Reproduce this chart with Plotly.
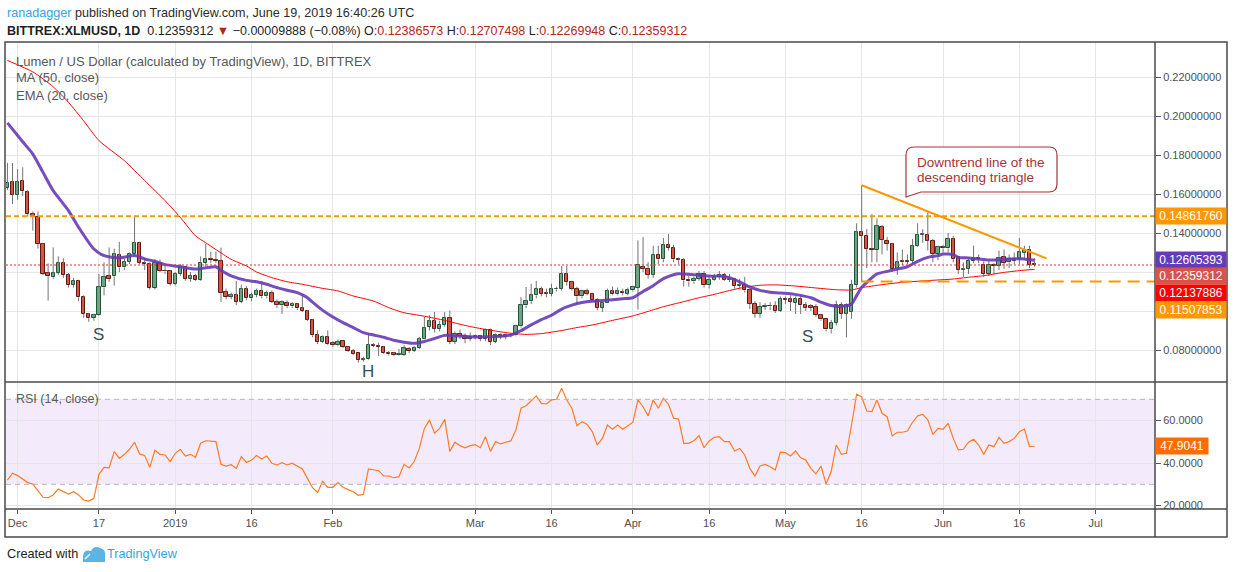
import plotly.graph_objects as go
import pandas as pd

# ---- data: BITTREX:XLMUSD, 1D ----
dates = pd.date_range("2018-11-29", "2019-06-19", freq="D")

open_ = [
    0.1631, 0.1660,
    # Dec
    0.1597, 0.1667, 0.1609, 0.1497, 0.1482, 0.1344, 0.1195, 0.1173, 0.1195, 0.1244,
    0.1185, 0.1133, 0.1156, 0.1070, 0.0985, 0.0964, 0.0979, 0.1121, 0.1178, 0.1178,
    0.1287, 0.1224, 0.1253, 0.1292, 0.1349, 0.1246, 0.1241, 0.1118, 0.1246, 0.1207, 0.1207,
    # Jan
    0.1138, 0.1190, 0.1227, 0.1164, 0.1181, 0.1159, 0.1246, 0.1267, 0.1262, 0.1258,
    0.1096, 0.1072, 0.1080, 0.1046, 0.1111, 0.1065, 0.1082, 0.1101, 0.1075, 0.1092,
    0.1046, 0.1029, 0.1041, 0.1024, 0.1034, 0.1014, 0.1000, 0.0954, 0.0875, 0.0841, 0.0868,
    # Feb
    0.0834, 0.0824, 0.0844, 0.0815, 0.0795, 0.0783, 0.0749, 0.0752, 0.0826, 0.0822,
    0.0817, 0.0785, 0.0783, 0.0773, 0.0775, 0.0805, 0.0795, 0.0812, 0.0858, 0.0918,
    0.0947, 0.0909, 0.0930, 0.0966, 0.0841, 0.0884, 0.0870, 0.0858,
    # Mar
    0.0865, 0.0870, 0.0858, 0.0901, 0.0841, 0.0879, 0.0867, 0.0879, 0.0875, 0.0921,
    0.1029, 0.1050, 0.1080, 0.1111, 0.1092, 0.1089, 0.1111, 0.1115, 0.1188, 0.1149,
    0.1115, 0.1075, 0.1101, 0.1089, 0.1058, 0.1017, 0.1043, 0.1101, 0.1085, 0.1097, 0.1089,
    # Apr
    0.1106, 0.1120, 0.1226, 0.1217, 0.1186, 0.1289, 0.1265, 0.1340, 0.1323, 0.1265,
    0.1260, 0.1161, 0.1152, 0.1166, 0.1191, 0.1132, 0.1161, 0.1174, 0.1186, 0.1161,
    0.1166, 0.1128, 0.1135, 0.1106, 0.1038, 0.0986, 0.1021, 0.1026, 0.1024, 0.1000,
    # May
    0.1063, 0.1063, 0.1041, 0.1063, 0.1029, 0.1024, 0.1021, 0.0978, 0.0957, 0.0906,
    0.0938, 0.1031, 0.0985, 0.0997, 0.1133, 0.1403, 0.1386, 0.1318, 0.1313, 0.1429,
    0.1361, 0.1344, 0.1215, 0.1255, 0.1258, 0.1258, 0.1335, 0.1390, 0.1390, 0.1361, 0.1292,
    # Jun
    0.1326, 0.1321, 0.1369, 0.1275, 0.1212, 0.1215, 0.1256, 0.1272, 0.1238, 0.1190,
    0.1238, 0.1233, 0.1275, 0.1249, 0.1258, 0.1267, 0.1297, 0.1313, 0.12386573,
]
high = [
    0.1760, 0.1759,
    0.1728, 0.1737, 0.1620, 0.1510, 0.1510, 0.1350, 0.1244, 0.1326, 0.1280, 0.1270,
    0.1195, 0.1170, 0.1160, 0.1080, 0.0990, 0.0985, 0.1190, 0.1250, 0.1326, 0.1320,
    0.1355, 0.1270, 0.1300, 0.1490, 0.1355, 0.1270, 0.1250, 0.1265, 0.1265, 0.1230, 0.1210,
    0.1200, 0.1240, 0.1230, 0.1200, 0.1190, 0.1280, 0.1345, 0.1304, 0.1305, 0.1325,
    0.1115, 0.1095, 0.1154, 0.1135, 0.1128, 0.1095, 0.1115, 0.1154, 0.1105, 0.1105,
    0.1060, 0.1055, 0.1055, 0.1045, 0.1040, 0.1085, 0.1005, 0.0956, 0.0901, 0.0875, 0.0901,
    0.0845, 0.0855, 0.0848, 0.0820, 0.0805, 0.0785, 0.0765, 0.0880, 0.0835, 0.0838,
    0.0820, 0.0795, 0.0790, 0.0805, 0.0825, 0.0815, 0.0820, 0.0868, 0.0970, 0.0978,
    0.0995, 0.0950, 0.0995, 0.1003, 0.0895, 0.0905, 0.0885, 0.0890,
    0.0880, 0.0875, 0.0910, 0.0910, 0.0885, 0.0885, 0.0885, 0.0885, 0.0930, 0.1072,
    0.1123, 0.1140, 0.1154, 0.1125, 0.1115, 0.1140, 0.1125, 0.1231, 0.1231, 0.1155,
    0.1125, 0.1110, 0.1115, 0.1095, 0.1065, 0.1050, 0.1115, 0.1125, 0.1120, 0.1115, 0.1120,
    0.1130, 0.1362, 0.1380, 0.1250, 0.1335, 0.1335, 0.1375, 0.1395, 0.1340, 0.1275,
    0.1270, 0.1180, 0.1175, 0.1205, 0.1205, 0.1180, 0.1190, 0.1205, 0.1195, 0.1190,
    0.1170, 0.1165, 0.1175, 0.1115, 0.1050, 0.1045, 0.1040, 0.1045, 0.1050, 0.1075,
    0.1075, 0.1080, 0.1075, 0.1085, 0.1045, 0.1035, 0.1035, 0.0985, 0.0960, 0.0955,
    0.1053, 0.1045, 0.1040, 0.1160, 0.1450, 0.1645, 0.1420, 0.1497, 0.1475, 0.1440,
    0.1380, 0.1350, 0.1300, 0.1315, 0.1290, 0.1370, 0.1450, 0.1420, 0.1506, 0.1370, 0.1335,
    0.1340, 0.1400, 0.1385, 0.1280, 0.1250, 0.1270, 0.1335, 0.1290, 0.1255, 0.1255,
    0.1245, 0.1310, 0.1315, 0.1290, 0.1300, 0.1374, 0.1335, 0.1335, 0.12707498,
]
low = [
    0.1620, 0.1549,
    0.1570, 0.1590, 0.1484, 0.1412, 0.1320, 0.1185, 0.1053, 0.1165, 0.1185, 0.1170,
    0.1120, 0.1120, 0.1050, 0.0965, 0.0945, 0.0950, 0.0975, 0.1080, 0.1150, 0.1130,
    0.1200, 0.1210, 0.1240, 0.1280, 0.1240, 0.1210, 0.1110, 0.1110, 0.1200, 0.1190, 0.1130,
    0.1130, 0.1180, 0.1155, 0.1150, 0.1155, 0.1155, 0.1230, 0.1245, 0.1245, 0.1046,
    0.1060, 0.1060, 0.1031, 0.1040, 0.1055, 0.1050, 0.1070, 0.1065, 0.1065, 0.1040,
    0.1015, 0.0985, 0.1015, 0.1015, 0.1005, 0.0995, 0.0950, 0.0865, 0.0830, 0.0835, 0.0825,
    0.0815, 0.0820, 0.0810, 0.0790, 0.0775, 0.0735, 0.0740, 0.0748, 0.0815, 0.0769,
    0.0780, 0.0772, 0.0768, 0.0770, 0.0770, 0.0785, 0.0790, 0.0805, 0.0855, 0.0900,
    0.0890, 0.0895, 0.0920, 0.0830, 0.0830, 0.0855, 0.0835, 0.0845,
    0.0855, 0.0845, 0.0845, 0.0825, 0.0835, 0.0855, 0.0855, 0.0865, 0.0870, 0.0915,
    0.1015, 0.1035, 0.1065, 0.1075, 0.1070, 0.1075, 0.1100, 0.1105, 0.1130, 0.1105,
    0.1035, 0.1065, 0.1080, 0.1050, 0.1003, 0.0995, 0.1040, 0.1080, 0.1080, 0.1080, 0.1080,
    0.1100, 0.1007, 0.1200, 0.1166, 0.1170, 0.1240, 0.1250, 0.1310, 0.1250, 0.1240,
    0.1125, 0.1125, 0.1140, 0.1155, 0.1120, 0.1115, 0.1155, 0.1160, 0.1155, 0.1148,
    0.1115, 0.1115, 0.1095, 0.1010, 0.0965, 0.0965, 0.1005, 0.1005, 0.0990, 0.0995,
    0.1035, 0.1000, 0.0985, 0.0985, 0.1000, 0.1000, 0.0970, 0.0950, 0.0895, 0.0885,
    0.0925, 0.0960, 0.0865, 0.0960, 0.1120, 0.1150, 0.1220, 0.1250, 0.1250, 0.1290,
    0.1310, 0.1200, 0.1185, 0.1235, 0.1240, 0.1240, 0.1330, 0.1350, 0.1310, 0.1250, 0.1260,
    0.1300, 0.1300, 0.1250, 0.1190, 0.1175, 0.1190, 0.1245, 0.1245, 0.1175, 0.1180,
    0.1190, 0.1210, 0.1215, 0.1220, 0.1240, 0.1240, 0.1270, 0.1220, 0.12269948,
]
close = [
    0.1656, 0.1597,
    0.1660, 0.1614, 0.1497, 0.1484, 0.1344, 0.1190, 0.1178, 0.1195, 0.1246, 0.1185,
    0.1133, 0.1156, 0.1070, 0.0985, 0.0964, 0.0979, 0.1121, 0.1173, 0.1164, 0.1291,
    0.1224, 0.1253, 0.1292, 0.1349, 0.1246, 0.1241, 0.1118, 0.1246, 0.1207, 0.1203, 0.1138,
    0.1190, 0.1227, 0.1164, 0.1181, 0.1159, 0.1246, 0.1267, 0.1262, 0.1258, 0.1091,
    0.1072, 0.1080, 0.1046, 0.1111, 0.1065, 0.1082, 0.1101, 0.1075, 0.1090, 0.1046,
    0.1029, 0.1044, 0.1024, 0.1034, 0.1014, 0.1000, 0.0956, 0.0875, 0.0841, 0.0868, 0.0829,
    0.0824, 0.0841, 0.0815, 0.0795, 0.0781, 0.0749, 0.0752, 0.0824, 0.0822, 0.0817,
    0.0785, 0.0778, 0.0773, 0.0780, 0.0809, 0.0795, 0.0812, 0.0855, 0.0915, 0.0947,
    0.0909, 0.0930, 0.0966, 0.0841, 0.0884, 0.0870, 0.0858, 0.0865,
    0.0870, 0.0858, 0.0901, 0.0841, 0.0879, 0.0867, 0.0879, 0.0875, 0.0921, 0.1029,
    0.1050, 0.1080, 0.1115, 0.1089, 0.1089, 0.1111, 0.1115, 0.1191, 0.1149, 0.1115,
    0.1075, 0.1101, 0.1089, 0.1058, 0.1017, 0.1043, 0.1101, 0.1085, 0.1101, 0.1092, 0.1106,
    0.1123, 0.1238, 0.1217, 0.1186, 0.1289, 0.1265, 0.1340, 0.1323, 0.1265, 0.1260,
    0.1157, 0.1152, 0.1166, 0.1191, 0.1132, 0.1161, 0.1174, 0.1186, 0.1161, 0.1166,
    0.1128, 0.1135, 0.1106, 0.1038, 0.0986, 0.1021, 0.1026, 0.1024, 0.1000, 0.1063,
    0.1058, 0.1046, 0.1063, 0.1029, 0.1017, 0.1017, 0.0981, 0.0957, 0.0906, 0.0938,
    0.1031, 0.0985, 0.1031, 0.1133, 0.1403, 0.1386, 0.1318, 0.1313, 0.1434, 0.1366,
    0.1344, 0.1215, 0.1250, 0.1250, 0.1253, 0.1335, 0.1390, 0.1393, 0.1361, 0.1292, 0.1326,
    0.1321, 0.1369, 0.1267, 0.1212, 0.1215, 0.1258, 0.1272, 0.1267, 0.1190, 0.1238,
    0.1233, 0.1272, 0.1246, 0.1267, 0.1267, 0.1301, 0.1313, 0.1238, 0.12359312,
]

# RSI(14) per candle
rsi = [
    32.0, 35.2, 34.1, 32.5, 30.8, 30.1, 27.0, 23.9, 23.7, 25.0, 27.8, 26.5,
    25.4, 26.5, 25.0, 22.6, 22.1, 23.4, 34.7, 38.0, 37.7, 45.4,
    42.2, 44.1, 46.5, 49.8, 44.3, 43.5, 38.0, 46.0, 44.1, 43.8,
    40.7, 44.6, 46.5, 43.3, 44.1, 42.7, 49.3, 50.5, 50.2, 50.1,
    39.4, 38.6, 39.2, 37.5, 43.0, 40.3, 41.4, 43.5, 41.9, 43.3,
    39.9, 39.1, 40.2, 39.1, 39.9, 38.6, 37.2, 32.8, 28.4, 26.2,
    31.4, 28.6, 28.6, 30.8, 28.6, 27.5, 26.5, 24.8, 25.3, 37.2,
    36.9, 36.4, 33.9, 33.9, 33.1, 33.6, 39.4, 37.7, 40.7, 46.9,
    56.3, 60.3, 54.0, 56.3, 60.6, 45.5, 49.8, 48.2, 47.2, 48.2,
    48.7, 47.2, 52.4, 45.5, 50.1, 49.0, 49.8, 50.4, 55.6, 65.8,
    67.0, 69.2, 71.6, 68.1, 67.8, 69.7, 70.0, 75.2, 69.7, 65.8,
    57.6, 59.5, 58.2, 54.8, 48.5, 51.6, 57.9, 55.9, 57.9, 55.9,
    57.6, 59.2, 69.7, 66.5, 62.2, 69.7, 65.8, 70.5, 67.6, 61.1,
    60.6, 49.3, 49.3, 50.5, 52.9, 47.2, 50.4, 52.1, 52.4, 50.1,
    50.1, 45.7, 46.9, 43.8, 37.5, 33.9, 38.6, 39.4, 38.3, 36.7,
    45.1, 44.9, 43.3, 45.7, 42.5, 41.4, 37.5, 34.9, 38.6, 30.1,
    36.0, 48.5, 44.1, 44.6, 57.9, 72.4, 71.1, 64.5, 64.2, 69.7,
    63.4, 61.8, 52.7, 54.5, 54.5, 55.1, 59.2, 62.2, 62.9, 60.3,
    53.5, 56.3, 55.9, 58.7, 51.6, 46.2, 46.5, 49.8, 51.2, 48.5,
    44.1, 48.5, 47.7, 52.1, 49.3, 50.1, 51.6, 54.8, 56.0, 47.7,
    47.9041,
]

# EMA(20)
ema_dates = [
    "2018-11-29", "2018-12-02", "2018-12-04", "2018-12-06", "2018-12-08", "2018-12-11",
    "2018-12-13", "2018-12-16", "2018-12-18", "2018-12-21", "2018-12-24", "2018-12-26",
    "2018-12-28", "2018-12-30", "2019-01-02", "2019-01-05", "2019-01-07", "2019-01-09",
    "2019-01-10", "2019-01-12", "2019-01-15", "2019-01-17", "2019-01-19", "2019-01-21",
    "2019-01-23", "2019-01-25", "2019-01-27", "2019-01-28", "2019-01-30", "2019-02-01",
    "2019-02-03", "2019-02-05", "2019-02-07", "2019-02-09", "2019-02-11", "2019-02-13",
    "2019-02-15", "2019-02-17", "2019-02-19", "2019-02-21", "2019-02-23", "2019-02-25",
    "2019-02-27", "2019-03-01", "2019-03-05", "2019-03-08", "2019-03-10", "2019-03-12",
    "2019-03-14", "2019-03-16", "2019-03-18", "2019-03-20", "2019-03-22", "2019-03-24",
    "2019-03-26", "2019-03-28", "2019-03-30", "2019-04-01", "2019-04-03", "2019-04-05",
    "2019-04-07", "2019-04-09", "2019-04-10", "2019-04-12", "2019-04-14", "2019-04-17",
    "2019-04-18", "2019-04-20", "2019-04-22", "2019-04-24", "2019-04-26", "2019-04-28",
    "2019-04-30", "2019-05-02", "2019-05-04", "2019-05-06", "2019-05-08", "2019-05-10",
    "2019-05-12", "2019-05-14", "2019-05-15", "2019-05-16", "2019-05-17", "2019-05-19",
    "2019-05-21", "2019-05-23", "2019-05-25", "2019-05-27", "2019-05-29", "2019-05-31",
    "2019-06-01", "2019-06-03", "2019-06-04", "2019-06-06", "2019-06-08", "2019-06-10",
    "2019-06-12", "2019-06-14", "2019-06-16", "2019-06-17", "2019-06-19",
]
ema_values = [
    0.1965, 0.1868, 0.1805, 0.1711, 0.1617, 0.1515,
    0.1429, 0.1318, 0.1284, 0.1272, 0.1284, 0.1267,
    0.1255, 0.1238, 0.1227, 0.1215, 0.1222, 0.1227,
    0.1209, 0.1180, 0.1157, 0.1150, 0.1137, 0.1120,
    0.1106, 0.1094, 0.1068, 0.1045, 0.1003, 0.0969,
    0.0940, 0.0915, 0.0889, 0.0877, 0.0865, 0.0850,
    0.0840, 0.0834, 0.0844, 0.0859, 0.0875, 0.0873,
    0.0870, 0.0867, 0.0869, 0.0877, 0.0899, 0.0929,
    0.0956, 0.0978, 0.1010, 0.1030, 0.1044, 0.1050,
    0.1054, 0.1058, 0.1063, 0.1068, 0.1100, 0.1130,
    0.1166, 0.1186, 0.1191, 0.1188, 0.1183, 0.1178,
    0.1180, 0.1171, 0.1149, 0.1123, 0.1106, 0.1096,
    0.1092, 0.1089, 0.1080, 0.1068, 0.1046, 0.1028,
    0.1024, 0.1036, 0.1079, 0.1121, 0.1147, 0.1190,
    0.1203, 0.1215, 0.1227, 0.1255, 0.1275, 0.1284,
    0.1292, 0.1289, 0.1275, 0.1272, 0.1267, 0.1262,
    0.1263, 0.1267, 0.1268, 0.1267, 0.12605393,
]

# MA(50)
ma_dates = [
    "2018-11-29", "2018-12-04", "2018-12-08", "2018-12-11", "2018-12-14", "2018-12-17",
    "2018-12-22", "2018-12-26", "2018-12-30", "2019-01-02", "2019-01-05", "2019-01-07",
    "2019-01-09", "2019-01-12", "2019-01-15", "2019-01-17", "2019-01-20", "2019-01-23",
    "2019-01-26", "2019-01-30", "2019-02-02", "2019-02-05", "2019-02-09", "2019-02-12",
    "2019-02-15", "2019-02-17", "2019-02-19", "2019-02-23", "2019-02-26", "2019-03-01",
    "2019-03-05", "2019-03-08", "2019-03-11", "2019-03-14", "2019-03-18", "2019-03-21",
    "2019-03-24", "2019-03-28", "2019-04-01", "2019-04-04", "2019-04-07", "2019-04-11",
    "2019-04-14", "2019-04-17", "2019-04-20", "2019-04-23", "2019-04-26", "2019-04-29",
    "2019-05-03", "2019-05-07", "2019-05-11", "2019-05-14", "2019-05-16", "2019-05-20",
    "2019-05-24", "2019-05-29", "2019-06-03", "2019-06-06", "2019-06-09", "2019-06-13",
    "2019-06-16", "2019-06-19",
]
ma_values = [
    0.2285, 0.2226, 0.2150, 0.2070, 0.1975, 0.1874,
    0.1771, 0.1669, 0.1566, 0.1480, 0.1385, 0.1350,
    0.1315, 0.1265, 0.1231, 0.1200, 0.1171, 0.1150,
    0.1137, 0.1116, 0.1103, 0.1077, 0.1051, 0.1017,
    0.0991, 0.0982, 0.0973, 0.0952, 0.0932, 0.0915,
    0.0897, 0.0886, 0.0880, 0.0884, 0.0900, 0.0915,
    0.0928, 0.0952, 0.0975, 0.0998, 0.1022, 0.1048,
    0.1068, 0.1085, 0.1105, 0.1122, 0.1132, 0.1134,
    0.1128, 0.1118, 0.1109, 0.1108, 0.1120, 0.1135,
    0.1147, 0.1156, 0.1164, 0.1173, 0.1181, 0.1198,
    0.1207, 0.12137886,
]

# drawings
trend_dates = ["2019-05-16", "2019-06-21 08:00"]
trend_prices = [0.1645, 0.1270]
resistance = 0.14861760
support = 0.11507853
support_from = "2019-05-16"
last_close = 0.12359312
ema_last = 0.12605393
ma_last = 0.12137886
rsi_last = 47.9041

price_ticks = [0.08, 0.10, 0.12, 0.14, 0.16, 0.18, 0.20, 0.22]
# 0.10 and 0.12 sit under the value tags, so their labels stay empty
price_labels = ["0.08000000", "", "", "0.14000000", "0.16000000", "0.18000000",
                "0.20000000", "0.22000000"]
rsi_ticks = [20, 40, 60]
date_ticks = ["2018-12-01", "2018-12-17", "2019-01-01", "2019-01-16", "2019-02-01",
              "2019-03-01", "2019-03-16", "2019-04-01", "2019-04-16", "2019-05-01",
              "2019-05-16", "2019-06-01", "2019-06-16", "2019-07-01"]
date_labels = ["Dec", "17", "2019", "16", "Feb", "Mar", "16", "Apr", "16", "May",
               "16", "Jun", "16", "Jul"]

# ---- styling ----
L, R, T, B = 6, 1155, 43, 509      # plot box in page pixels


def paper(x, y):
    return (x - L) / (R - L), (B - y) / (B - T)


def path(points):
    out = []
    for cmd, pts in points:
        coords = " ".join("%.5f,%.5f" % paper(*p) for p in pts)
        out.append(cmd + coords)
    return " ".join(out) + " Z"


FONT = "Liberation Sans"
TXT = "#4f4f4f"
GRID = "#e6e6e6"
FRAME = "#4a4a4a"
DAY_MS = 86400000

rising = [c >= o for o, c in zip(open_, close)]
body_lo = [min(o, c) for o, c in zip(open_, close)]
body_hi = [max(o, c) for o, c in zip(open_, close)]

wick_x, wick_y = [], []
for d, lo, hi, bl, bh in zip(dates, low, high, body_lo, body_hi):
    wick_x += [d, d, None, d, d, None]
    wick_y += [lo, bl, None, bh, hi, None]

fig = go.Figure()

fig.add_trace(go.Scatter(x=wick_x, y=wick_y, mode="lines",
                         line=dict(color="#737375", width=1), hoverinfo="skip"))
fig.add_trace(go.Bar(
    x=dates, base=body_lo,
    y=[max(h - l, 0.00025) for h, l in zip(body_hi, body_lo)],
    width=0.66 * DAY_MS,
    marker=dict(color=["#6ba583" if r else "#d75442" for r in rising],
                line=dict(color=["#225437" if r else "#5b1a13" for r in rising], width=1)),
    hoverinfo="skip"))

fig.add_trace(go.Scatter(x=ma_dates, y=ma_values, mode="lines",
                         line=dict(color="#ff0000", width=1, shape="spline", smoothing=0.6)))
fig.add_trace(go.Scatter(x=ema_dates, y=ema_values, mode="lines",
                         line=dict(color="rgba(103,58,183,0.9)", width=3, shape="spline",
                                   smoothing=0.6)))
fig.add_trace(go.Scatter(x=trend_dates, y=trend_prices, mode="lines",
                         line=dict(color="#ff9800", width=2)))

fig.add_trace(go.Scatter(x=dates, y=rsi, yaxis="y2", mode="lines",
                         line=dict(color="#ff7a22", width=1.2)))

x_range = ["2018-11-28 17:15", "2019-07-12 16:20"]

shapes = [
    # RSI band
    dict(type="rect", xref="paper", yref="y2", x0=0, x1=1, y0=30, y1=70,
         fillcolor="rgba(150,70,230,0.11)", line=dict(width=0), layer="below"),
    dict(type="line", xref="paper", yref="y2", x0=0, x1=1, y0=70, y1=70,
         line=dict(color="#b9b3bf", width=1, dash="5px,4px")),
    dict(type="line", xref="paper", yref="y2", x0=0, x1=1, y0=30, y1=30,
         line=dict(color="#b9b3bf", width=1, dash="5px,4px")),
    # horizontal levels
    dict(type="line", xref="paper", yref="y", x0=0, x1=1, y0=resistance, y1=resistance,
         line=dict(color="#ff9800", width=2, dash="5px,3px")),
    dict(type="line", xref="x", yref="y", x0=support_from, x1=x_range[1], y0=support, y1=support,
         line=dict(color="#ff9800", width=2, dash="12px,7px")),
    dict(type="line", xref="paper", yref="y", x0=0, x1=1, y0=last_close, y1=last_close,
         line=dict(color="#e0302a", width=1, dash="2px,2px")),
]

# frame, panel separators
fx0, fy0 = paper(5, 537)
fx1, fy1 = paper(1227, 42)
sep_y = paper(0, 382)[1]
shapes += [
    dict(type="rect", xref="paper", yref="paper", x0=fx0, x1=fx1, y0=fy0, y1=fy1,
         line=dict(color=FRAME, width=1.5)),
    dict(type="line", xref="paper", yref="paper", x0=1, x1=1, y0=fy0, y1=fy1,
         line=dict(color=FRAME, width=1.5)),
    dict(type="line", xref="paper", yref="paper", x0=fx0, x1=fx1, y0=0, y1=0,
         line=dict(color=FRAME, width=1.5)),
    dict(type="line", xref="paper", yref="paper", x0=fx0, x1=fx1, y0=sep_y, y1=sep_y,
         line=dict(color=FRAME, width=1.5)),
]

# callout bubble
bubble = [
    ("M", [(914, 147)]), ("L", [(1049, 147)]), ("Q", [(1057, 147), (1057, 155)]),
    ("L", [(1057, 184)]), ("Q", [(1057, 192), (1049, 192)]), ("L", [(921, 192)]),
    ("L", [(906, 197)]), ("L", [(906, 155)]), ("Q", [(906, 147), (914, 147)]),
]
shapes.append(dict(type="path", xref="paper", yref="paper", path=path(bubble),
                   fillcolor="white", line=dict(color="#a8333a", width=1.2)))

# TradingView logo (bottom left)
logo = [
    ("M", [(83, 562)]), ("L", [(83, 556)]), ("Q", [(84, 549), (91, 551)]),
    ("Q", [(94, 545), (100, 548)]), ("Q", [(106, 549), (105, 556)]), ("L", [(105, 562)]),
]
shapes.append(dict(type="path", xref="paper", yref="paper", path=path(logo),
                   fillcolor="#5ab4e5", line=dict(width=0)))
zig = [("M", [(85, 559)]), ("L", [(90, 554), (94, 558), (100, 552), (104, 555)])]
shapes.append(dict(type="path", xref="paper", yref="paper",
                   path=path(zig).replace(" Z", ""),
                   line=dict(color="white", width=1.6)))

annotations = []


def text_at(x, y, text, size=13, color=TXT, anchor="left", family=FONT):
    px_, py_ = paper(x, y)
    annotations.append(dict(x=px_, y=py_, xref="paper", yref="paper", text=text,
                            showarrow=False, xanchor=anchor, yanchor="middle",
                            font=dict(size=size, color=color, family=family)))


text_at(5, 13, "<span style='color:#33a5dc'>ranadagger</span> published on TradingView.com, "
        "June 19, 2019 16:40:26 UTC", size=12.6, color="#2b2b2b")
red = "#b3261e"
text_at(5, 31, "<b>BITTREX:XLMUSD, 1D</b>  0.12359312 <span style='color:%s'>▼</span> "
        "−0.00009888 (−0.08%%) O:<span style='color:%s'>0.12386573</span> "
        "H:<span style='color:%s'>0.12707498</span> L:<span style='color:%s'>0.12269948</span> "
        "C:<span style='color:%s'>0.12359312</span>" % (red, red, red, red, red),
        size=12.5, color="#1f1f1f")

text_at(14, 61, "Lumen / US Dollar (calculated by TradingView), 1D, BITTREX", size=13, color="#585858")
text_at(14, 78, "MA (50, close)", size=13, color="#585858")
text_at(14, 95, "EMA (20, close)", size=13, color="#585858")
text_at(14, 399, "RSI (14, close)", size=12.5, color="#5a5a5a")

text_at(915, 162, "Downtrend line of the", size=13.5, color="#a8333a")
text_at(915, 177, "descending triangle", size=13.5, color="#a8333a")

text_at(5, 554, "Created with", size=12.7, color="#222222")
text_at(105, 554, "TradingView", size=12.7, color="#33a5dc")

# pattern letters
for lx, ly, letter in [("2018-12-17", 0.0877, "S"), ("2019-02-08", 0.0692, "H"),
                       ("2019-05-05 10:00", 0.0867, "S")]:
    annotations.append(dict(x=lx, y=ly, xref="x", yref="y", text=letter, showarrow=False,
                            font=dict(size=17, color="#34505c", family=FONT)))


def axis_tag(value, color, yref="y", shift=0, digits=8, width=68):
    annotations.append(dict(x=1, xref="paper", xanchor="left", y=value, yref=yref,
                            yshift=shift, yanchor="middle", text="%.*f" % (digits, value),
                            showarrow=False, bgcolor=color, width=width, height=14,
                            borderpad=1, align="center",
                            font=dict(size=12, color="white", family=FONT)))


axis_tag(resistance, "#ff9800")
axis_tag(ema_last, "#673ab7")
axis_tag(last_close, "#d9534a", shift=-11)
axis_tag(ma_last, "#ff0000", shift=-24)
axis_tag(support, "#ff9800", shift=-28.5)
axis_tag(rsi_last, "#ff6d00", yref="y2", digits=4, width=50)

axis_common = dict(showgrid=True, gridcolor=GRID, gridwidth=1, zeroline=False,
                   ticks="outside", ticklen=5, tickcolor="#555555",
                   tickfont=dict(size=11, color=TXT, family=FONT))

fig.update_layout(
    width=1234, height=572,
    margin=dict(l=L, r=1234 - R, t=T, b=572 - B),
    paper_bgcolor="white", plot_bgcolor="white",
    showlegend=False, hovermode=False, bargap=0,
    font=dict(family=FONT, color=TXT),
    xaxis=dict(range=x_range, anchor="y2", tickvals=date_ticks, ticktext=date_labels,
               **{**axis_common, "ticklen": 4}),
    yaxis=dict(domain=[(B - 381) / (B - T), 1], range=[0.06410, 0.23744], side="right",
               tickvals=price_ticks, ticktext=price_labels, **axis_common),
    yaxis2=dict(domain=[0, (B - 383) / (B - T)], range=[18.38, 77.67], side="right",
                tickvals=rsi_ticks, tickformat=".4f", **axis_common),
    shapes=shapes,
    annotations=annotations,
)

# the page is shot edge to edge, so drop the browser's default body margin
fig.write_html("out.html", config={"displayModeBar": False},
               post_script="document.body.style.margin='0px';")
